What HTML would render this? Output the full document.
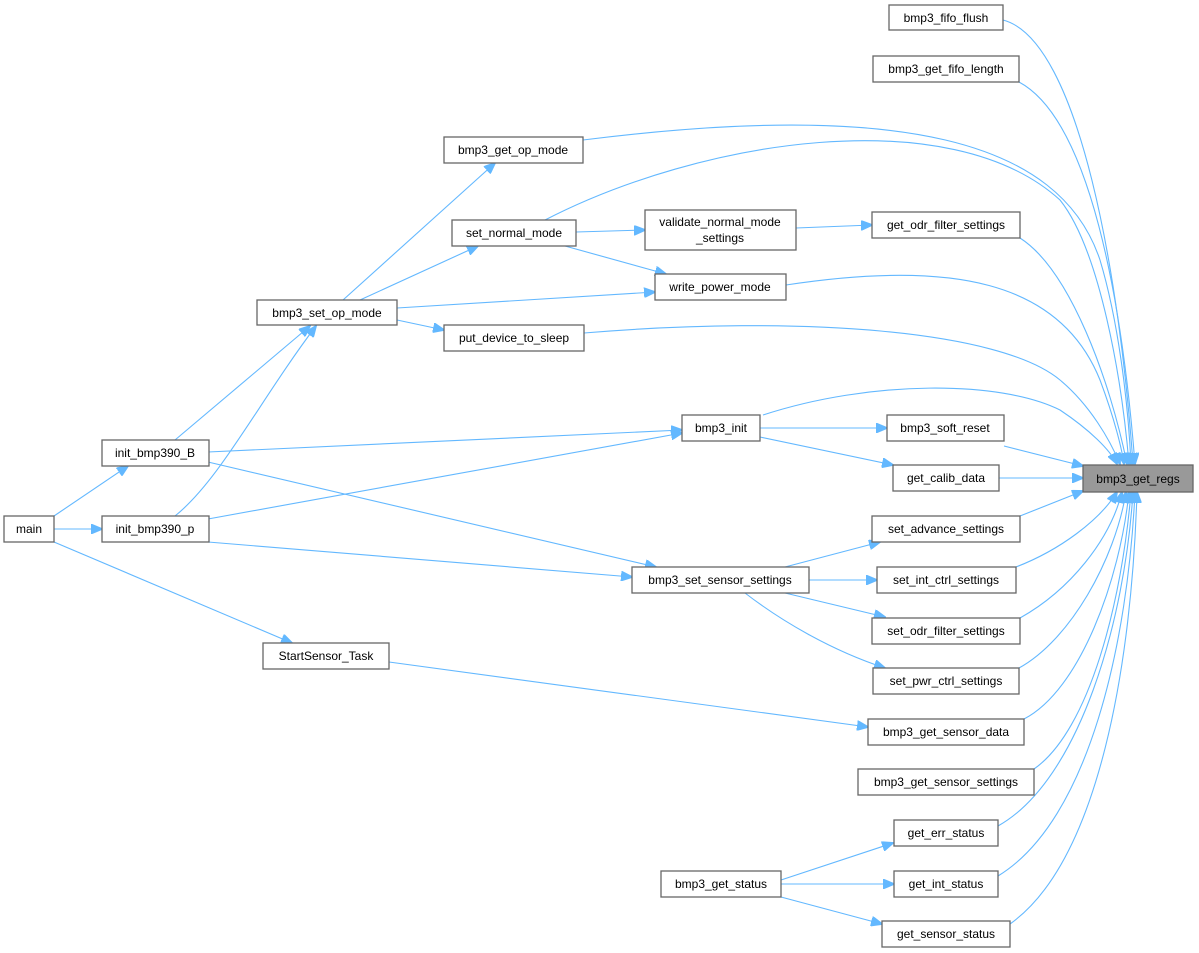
<!DOCTYPE html>
<html><head><meta charset="utf-8"><style>
html,body{margin:0;padding:0;background:#fff;}
svg{display:block;}
text{font-family:"Liberation Sans",Arial,sans-serif;font-size:12px;fill:#000;}
.n{fill:#fff;stroke:#666;stroke-width:1.3;}
.e{fill:none;stroke:#63b8ff;stroke-width:1.1;}
</style></head><body>
<svg width="1199" height="953" viewBox="0 0 1199 953" xmlns="http://www.w3.org/2000/svg">
<defs><marker id="a" markerWidth="12" markerHeight="10" refX="11" refY="5" orient="auto" markerUnits="userSpaceOnUse"><path d="M0,0 L12,5 L0,10 z" fill="#63b8ff" stroke="#63b8ff"/></marker></defs>
<g class="e" marker-end="url(#a)">
<path d="M54,529 L102,529"/>
<path d="M54,516 L128,466"/>
<path d="M54,542 L292,643"/>
<path d="M175,440 L310,326"/>
<path d="M175,516 C220,480 260,400 316,326"/>
<path d="M208,452 L682,430"/>
<path d="M208,462 L656,567"/>
<path d="M208,542 L632,577"/>
<path d="M208,519 L682,433"/>
<path d="M343,300 L495,163"/>
<path d="M360,300 L478,246"/>
<path d="M397,308 L655,292"/>
<path d="M397,320 L444,330"/>
<path d="M576,232 L645,230"/>
<path d="M565,246 L666,274"/>
<path d="M796,228 L872,225"/>
<path d="M389,662 L868,727"/>
<path d="M760,428 L887,428"/>
<path d="M760,437 L893,465"/>
<path d="M785,567 L880,542"/>
<path d="M809,580 L877,580"/>
<path d="M785,593 L885,617"/>
<path d="M745,593 C780,620 830,650 885,668"/>
<path d="M781,880 L893,843"/>
<path d="M781,884 L894,884"/>
<path d="M781,897 L882,924"/>
<path d="M1003,20 C1080,40 1120,280 1133,464"/>
<path d="M1019,82 C1090,120 1122,300 1135,464"/>
<path d="M583,140 C900,100 1060,140 1100,260 C1118,320 1128,400 1131,464"/>
<path d="M545,220 C700,140 950,100 1060,200 C1100,250 1122,380 1129,464"/>
<path d="M1020,238 C1070,270 1110,380 1127,464"/>
<path d="M786,285 C950,260 1060,280 1100,380 C1115,420 1122,450 1124,464"/>
<path d="M584,333 C800,315 1000,330 1060,380 C1090,405 1110,440 1120,464"/>
<path d="M763,415 C870,380 1000,380 1060,410 C1090,430 1110,450 1117,464"/>
<path d="M1004,446 L1083,466"/>
<path d="M999,478 L1083,478"/>
<path d="M1020,516 L1083,491"/>
<path d="M1016,567 C1060,550 1100,520 1117,492"/>
<path d="M1020,618 C1070,590 1110,540 1122,492"/>
<path d="M1019,668 C1070,640 1115,560 1126,492"/>
<path d="M1024,719 C1080,690 1120,580 1129,492"/>
<path d="M1034,769 C1090,730 1122,600 1131,492"/>
<path d="M998,826 C1080,780 1125,620 1133,492"/>
<path d="M998,876 C1090,820 1128,640 1135,492"/>
<path d="M1010,924 C1100,860 1132,660 1137,492"/>
</g>
<g>
<rect class="n" x="889" y="5" width="114" height="25"/><text x="946" y="22" text-anchor="middle">bmp3_fifo_flush</text>
<rect class="n" x="873" y="56" width="146" height="26"/><text x="946" y="73" text-anchor="middle">bmp3_get_fifo_length</text>
<rect class="n" x="444" y="137" width="139" height="26"/><text x="513" y="154" text-anchor="middle">bmp3_get_op_mode</text>
<rect class="n" x="452" y="220" width="124" height="26"/><text x="514" y="237" text-anchor="middle">set_normal_mode</text>
<rect class="n" x="645" y="210" width="151" height="40"/><text x="720" y="226" text-anchor="middle">validate_normal_mode</text><text x="720" y="242" text-anchor="middle">_settings</text>
<rect class="n" x="872" y="212" width="148" height="26"/><text x="946" y="229" text-anchor="middle">get_odr_filter_settings</text>
<rect class="n" x="655" y="274" width="131" height="26"/><text x="720" y="291" text-anchor="middle">write_power_mode</text>
<rect class="n" x="257" y="300" width="140" height="25"/><text x="327" y="317" text-anchor="middle">bmp3_set_op_mode</text>
<rect class="n" x="444" y="325" width="140" height="26"/><text x="514" y="342" text-anchor="middle">put_device_to_sleep</text>
<rect class="n" x="682" y="415" width="78" height="26"/><text x="721" y="432" text-anchor="middle">bmp3_init</text>
<rect class="n" x="887" y="415" width="117" height="26"/><text x="945" y="432" text-anchor="middle">bmp3_soft_reset</text>
<rect class="n" x="102" y="440" width="107" height="26"/><text x="155" y="457" text-anchor="middle">init_bmp390_B</text>
<rect class="n" x="893" y="465" width="106" height="26"/><text x="946" y="482" text-anchor="middle">get_calib_data</text>
<rect x="1083" y="465" width="110" height="27" fill="#999" stroke="#666" stroke-width="1.3"/><text x="1138" y="483" text-anchor="middle">bmp3_get_regs</text>
<rect class="n" x="4" y="516" width="50" height="26"/><text x="29" y="533" text-anchor="middle">main</text>
<rect class="n" x="102" y="516" width="107" height="26"/><text x="155" y="533" text-anchor="middle">init_bmp390_p</text>
<rect class="n" x="872" y="516" width="148" height="26"/><text x="946" y="533" text-anchor="middle">set_advance_settings</text>
<rect class="n" x="632" y="567" width="177" height="26"/><text x="720" y="584" text-anchor="middle">bmp3_set_sensor_settings</text>
<rect class="n" x="877" y="567" width="139" height="26"/><text x="946" y="584" text-anchor="middle">set_int_ctrl_settings</text>
<rect class="n" x="872" y="618" width="148" height="26"/><text x="946" y="635" text-anchor="middle">set_odr_filter_settings</text>
<rect class="n" x="263" y="643" width="126" height="26"/><text x="326" y="660" text-anchor="middle">StartSensor_Task</text>
<rect class="n" x="873" y="668" width="146" height="26"/><text x="946" y="685" text-anchor="middle">set_pwr_ctrl_settings</text>
<rect class="n" x="868" y="719" width="156" height="26"/><text x="946" y="736" text-anchor="middle">bmp3_get_sensor_data</text>
<rect class="n" x="858" y="769" width="176" height="26"/><text x="946" y="786" text-anchor="middle">bmp3_get_sensor_settings</text>
<rect class="n" x="894" y="820" width="104" height="26"/><text x="946" y="837" text-anchor="middle">get_err_status</text>
<rect class="n" x="661" y="871" width="120" height="26"/><text x="721" y="888" text-anchor="middle">bmp3_get_status</text>
<rect class="n" x="894" y="871" width="104" height="26"/><text x="946" y="888" text-anchor="middle">get_int_status</text>
<rect class="n" x="882" y="921" width="128" height="26"/><text x="946" y="938" text-anchor="middle">get_sensor_status</text>
</g>
</svg>
</body></html>
